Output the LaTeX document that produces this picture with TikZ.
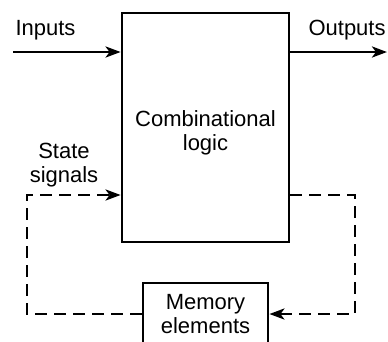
\documentclass[tikz,border=0pt]{standalone}
\usepackage{fontspec}
\setmainfont{Liberation Sans}
\usetikzlibrary{arrows.meta}

\begin{document}
\begin{tikzpicture}[x=1pt,y=-1pt,
    block/.style={draw,line width=2.8pt,align=center,inner sep=0pt},
    label/.style={font=\fontsize{22}{24}\selectfont,align=center},
    flow/.style={line width=2.8pt,-{Stealth[length=15pt,width=11pt,inset=4pt]}},
    loop/.style={flow,dash pattern=on 12pt off 7pt}]
    \useasboundingbox (0,0) rectangle (388,341);
    \clip (0,0) rectangle (388,341);

    % The two blocks
    \node[block,minimum width=167pt,minimum height=229pt] (logic) at (205.5,127.5) {};
    \node[label] (logictext) at (205.5,133) {Combinational\\logic};
    \node[block,label,minimum width=125pt,minimum height=62pt] (memory) at (205.5,314) {Memory\\elements};

    % Free ends of the lines
    \coordinate (in) at (13,52);
    \coordinate (out) at (387,52);
    \coordinate (back) at (355,195);
    \coordinate (state) at (27,195);

    % Inputs and outputs
    \draw[flow] (in) -- (in -| logic.west);
    \draw[flow] (out -| logic.east) -- (out);
    \node[label,anchor=base west] (inputs) at (12,35) {Inputs};
    \node[label,anchor=base west] (outputs) at (305,35) {Outputs};

    % Feedback through the memory
    \draw[loop] (back -| logic.east) -- (back) |- (memory.east);
    \draw[loop] (memory.west) -| (state) -- (state -| logic.west);
    \node[label] (statesig) at (64,165) {State\\signals};
\end{tikzpicture}
\end{document}
